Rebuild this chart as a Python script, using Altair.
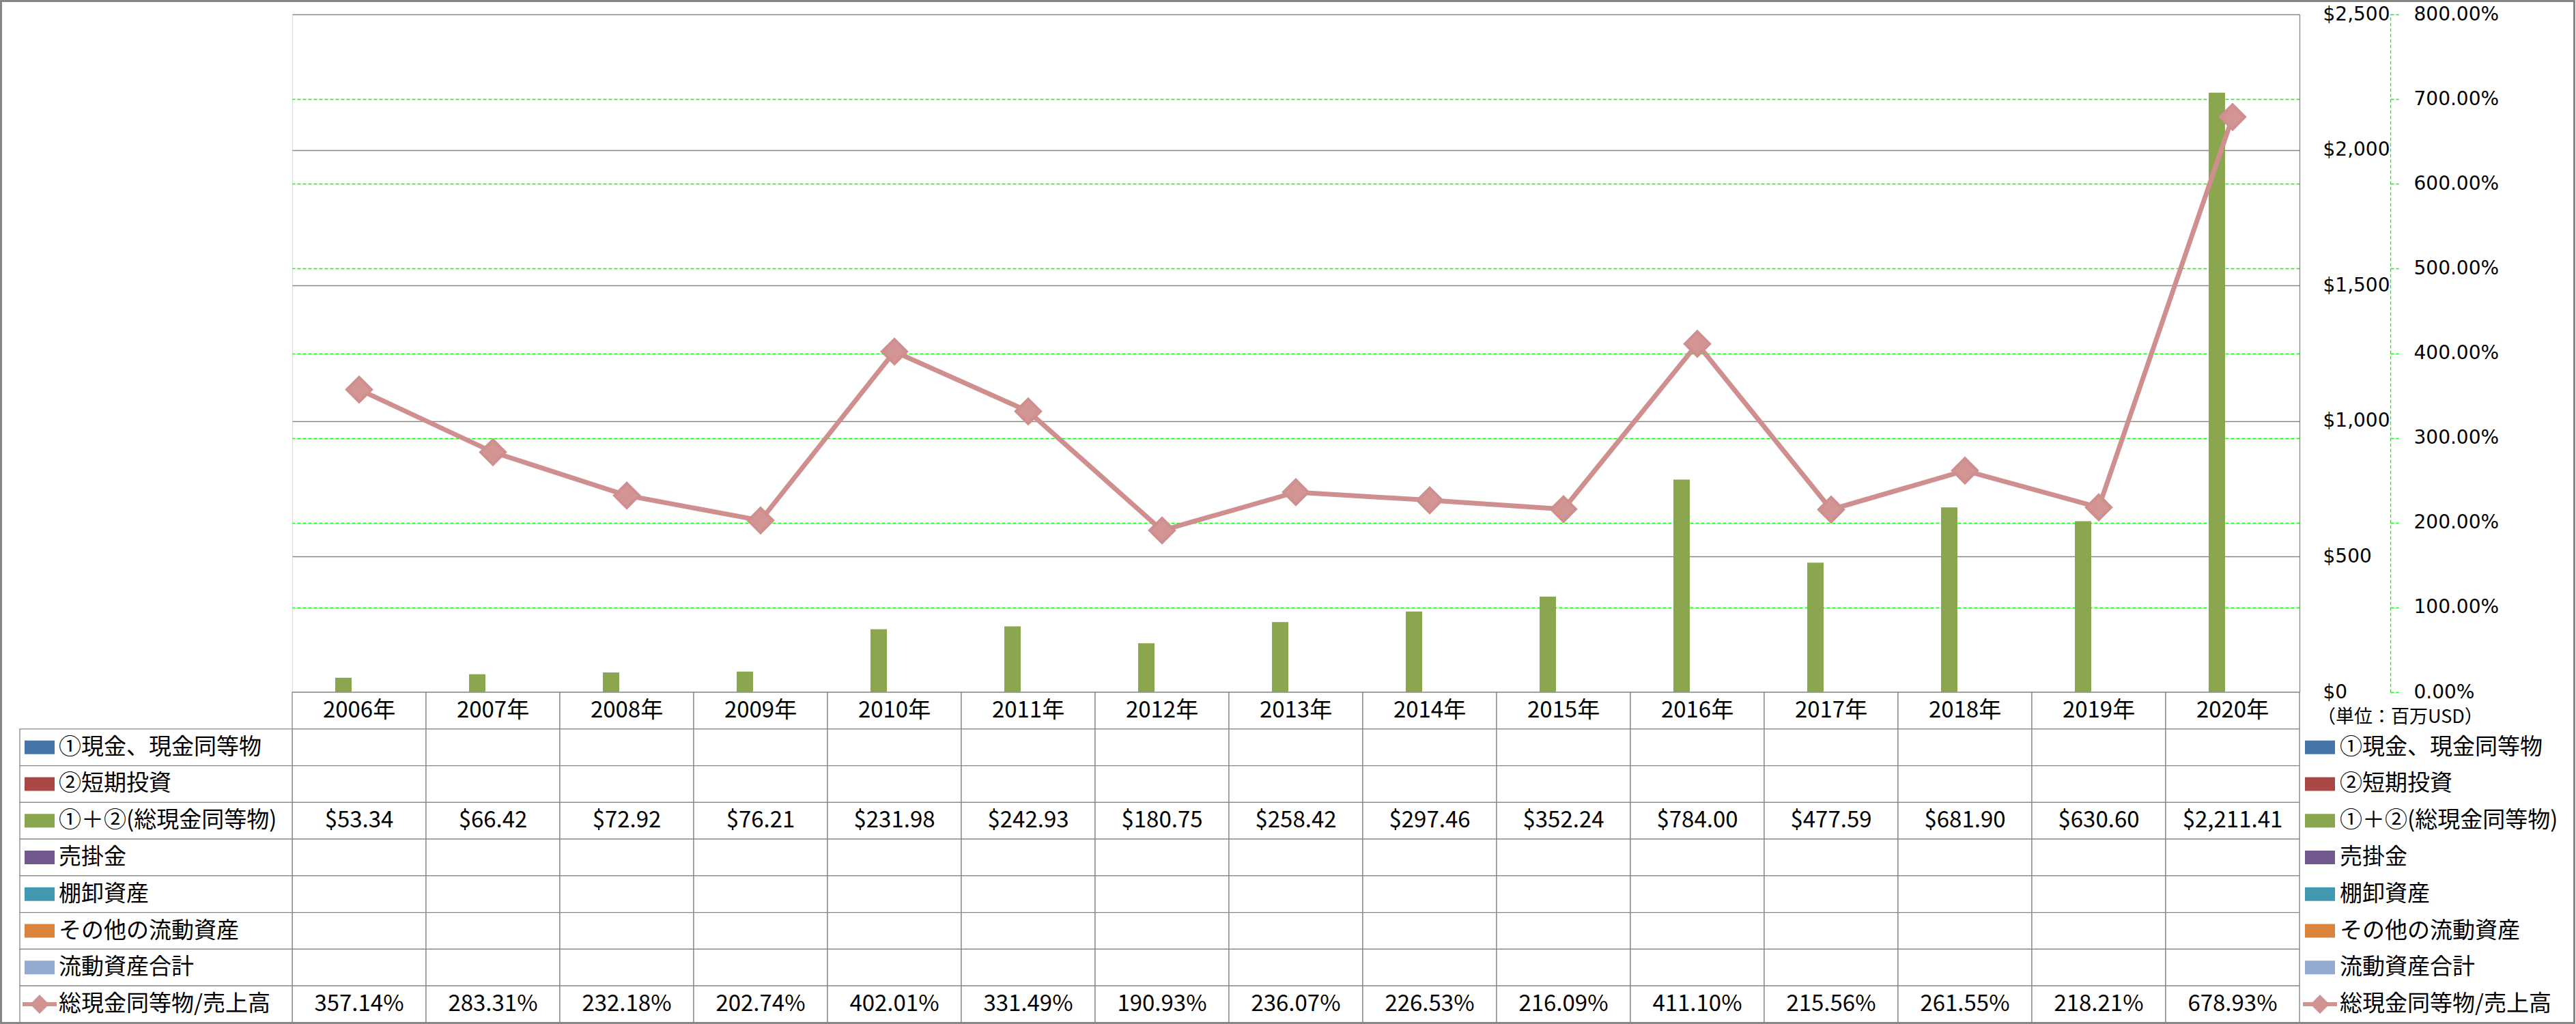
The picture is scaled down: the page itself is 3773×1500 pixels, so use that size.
import altair as alt
import pandas as pd

# ---------------- data ----------------
years = ["2006年", "2007年", "2008年", "2009年", "2010年", "2011年", "2012年", "2013年",
         "2014年", "2015年", "2016年", "2017年", "2018年", "2019年", "2020年"]
cash_total = [53.34, 66.42, 72.92, 76.21, 231.98, 242.93, 180.75, 258.42,
              297.46, 352.24, 784.00, 477.59, 681.90, 630.60, 2211.41]
ratio_pct = [357.14, 283.31, 232.18, 202.74, 402.01, 331.49, 190.93, 236.07,
             226.53, 216.09, 411.10, 215.56, 261.55, 218.21, 678.93]
series_names = ["①現金、現金同等物", "②短期投資", "①＋②(総現金同等物)", "売掛金",
                "棚卸資産", "その他の流動資産", "流動資産合計", "総現金同等物/売上高"]
series_colors = ["#4673A8", "#AA4644", "#89A54E", "#71588F",
                 "#4198AF", "#DB843D", "#93A9CF", "#D09392"]
dollar_ticks = [0, 500, 1000, 1500, 2000, 2500]
pct_ticks = [0, 100, 200, 300, 400, 500, 600, 700, 800]
pct_grid = [100, 200, 300, 400, 500, 600, 700]
unit_label = "（単位：百万USD）"

# ---------------- style / layout ----------------
FONT = "Noto Sans CJK JP"
AXIS_FONT = "DejaVu Sans"
W = 2940
PLOT_H = 993
TABLE_H = 484
GRID = "#878787"
GREEN = "#00FF00"
BAR = "#8AA64E"
PINK = "#CE8F8E"
PINK_FILL = "#D29594"
RECT_PATH = "M-0.88,-0.4H0.88V0.4H-0.88Z"
LINE_PATH = "M-1,-0.12H1V0.12H-1Z M0,-0.56L0.56,0L0,0.56L-0.56,0Z"

main_df = pd.DataFrame({"year": years, "cash": cash_total,
                        "ratio": [p / 100 for p in ratio_pct]})
row_keys = ["header"] + series_names
cells_df = pd.DataFrame([{"year": y, "row": r} for r in row_keys for y in years])
text_rows = [{"year": y, "row": "header", "label": y} for y in years]
text_rows += [{"year": y, "row": series_names[2], "label": f"${v:,.2f}"}
              for y, v in zip(years, cash_total)]
text_rows += [{"year": y, "row": series_names[7], "label": f"{p:.2f}%"}
              for y, p in zip(years, ratio_pct)]
text_df = pd.DataFrame(text_rows)
legend_df = pd.DataFrame({"row": series_names})
unit_df = pd.DataFrame({"row": ["header"], "label": [unit_label]})
one_df = pd.DataFrame({"a": [0]})

xscale = alt.Scale(type="band", domain=years, paddingInner=0, paddingOuter=0)


def X():
    return alt.X("year:N", scale=xscale, axis=None)


def Yrow():
    return alt.Y("row:N", scale=alt.Scale(type="band", domain=row_keys,
                                          range=[PLOT_H, PLOT_H + TABLE_H],
                                          paddingInner=0, paddingOuter=0), axis=None)


color_enc = alt.Color("row:N", scale=alt.Scale(domain=series_names, range=series_colors), legend=None)
shape_enc = alt.Shape("row:N", scale=alt.Scale(domain=series_names, range=[RECT_PATH] * 7 + [LINE_PATH]),
                      legend=None)

# ---------------- secondary (percent) axis ----------------
pct_scale = alt.Scale(domain=[0, 8], range=[PLOT_H, 0], nice=False)
pct_grid_layer = alt.Chart(main_df).mark_point(opacity=0).encode(
    x=X(),
    y=alt.Y("ratio:Q", scale=pct_scale,
            axis=alt.Axis(orient="right", values=[t / 100 for t in pct_grid],
                          domain=False, ticks=False, labels=False,
                          grid=True, gridColor=GREEN, gridDash=[5, 3], gridWidth=1.3, title=None)))
pct_axis_layer = alt.Chart(main_df).mark_point(opacity=0).encode(
    x=X(),
    y=alt.Y("ratio:Q", scale=pct_scale,
            axis=alt.Axis(orient="right", offset=133, values=[t / 100 for t in pct_ticks], format=".2%",
                          domain=True, domainColor=GREEN, domainDash=[5, 3], domainWidth=1.3,
                          ticks=True, tickColor=GREEN, tickDash=[5, 3], tickSize=12, tickWidth=1.3,
                          grid=False,
                          labelPadding=22, labelAlign="left", labelBaseline="middle",
                          labelFont=AXIS_FONT, labelFontSize=28, labelColor="black", title=None)))

# ---------------- table ----------------
cell_rects = alt.Chart(cells_df).mark_rect(fill="white", stroke=GRID, strokeWidth=1.3).encode(
    x=X(), y=Yrow())
label_rects = alt.Chart(legend_df).mark_rect(fill="white", stroke=GRID, strokeWidth=1.3).encode(
    x=alt.value(-399), x2=alt.value(0), y=Yrow())
cell_text = alt.Chart(text_df).mark_text(font=FONT, fontSize=33, color="black", baseline="middle").encode(
    x=X(), y=Yrow(), text="label:N")
label_text = alt.Chart(legend_df).mark_text(font=FONT, fontSize=33, color="black", align="left",
                                             baseline="middle").encode(
    x=alt.value(-342), y=Yrow(), text="row:N")
left_sw = alt.Chart(legend_df).mark_point(filled=True, opacity=1, size=2500, strokeWidth=0).encode(
    x=alt.value(-370), y=Yrow(), color=color_enc, shape=shape_enc)
right_sw = alt.Chart(legend_df).mark_point(filled=True, opacity=1, size=2500, strokeWidth=0).encode(
    x=alt.value(2970), y=Yrow(), color=color_enc, shape=shape_enc)
right_text = alt.Chart(legend_df).mark_text(font=FONT, fontSize=33, color="black", align="left",
                                             baseline="middle").encode(
    x=alt.value(2999), y=Yrow(), text="row:N")
unit_text = alt.Chart(unit_df).mark_text(font=FONT, fontSize=27, color="black", align="left",
                                          baseline="middle", dy=10).encode(
    x=alt.value(2966), y=Yrow(), text="label:N")

# ---------------- main plot ----------------
bars = alt.Chart(main_df).mark_bar(color=BAR, width=24, xOffset=-23).encode(
    x=X(),
    y=alt.Y("cash:Q",
            scale=alt.Scale(domain=[0, 2500], range=[PLOT_H, 0], nice=False),
            axis=alt.Axis(orient="right", values=dollar_ticks, format="$,.0f", ticks=False, tickSize=0,
                          domain=True, domainColor=GRID, domainWidth=1.3,
                          grid=True, gridColor=GRID, gridWidth=1.5,
                          labelPadding=34, labelAlign="left", labelBaseline="middle",
                          labelFont=AXIS_FONT, labelFontSize=28, labelColor="black", title=None)))

line = alt.Chart(main_df).mark_line(color=PINK, strokeWidth=7).encode(
    x=X(), y=alt.Y("ratio:Q", scale=pct_scale, axis=None))
points = alt.Chart(main_df).mark_point(shape="diamond", size=1300, filled=True, fill=PINK_FILL,
                                       stroke=PINK, strokeWidth=4, opacity=1).encode(
    x=X(), y=alt.Y("ratio:Q", scale=pct_scale, axis=None))

border = alt.Chart(one_df).mark_rect(fillOpacity=0, stroke="#868686", strokeWidth=3).encode(
    x=alt.value(-426.5), x2=alt.value(3342.5), y=alt.value(-19.5), y2=alt.value(1477.5))

chart = alt.layer(
    pct_grid_layer, pct_axis_layer,
    cell_rects, label_rects, cell_text, label_text, left_sw, right_sw, right_text, unit_text,
    bars, line, points, border
).resolve_scale(y="independent").properties(
    width=W, height=PLOT_H + TABLE_H,
    padding={"left": 428, "top": 21, "right": 405, "bottom": 2},
    autosize=alt.AutoSizeParams(type="none"),
    background="white",
).configure_view(strokeWidth=0).configure(font=FONT)

chart.save("out.html", embed_options={"renderer": "svg", "actions": False})
